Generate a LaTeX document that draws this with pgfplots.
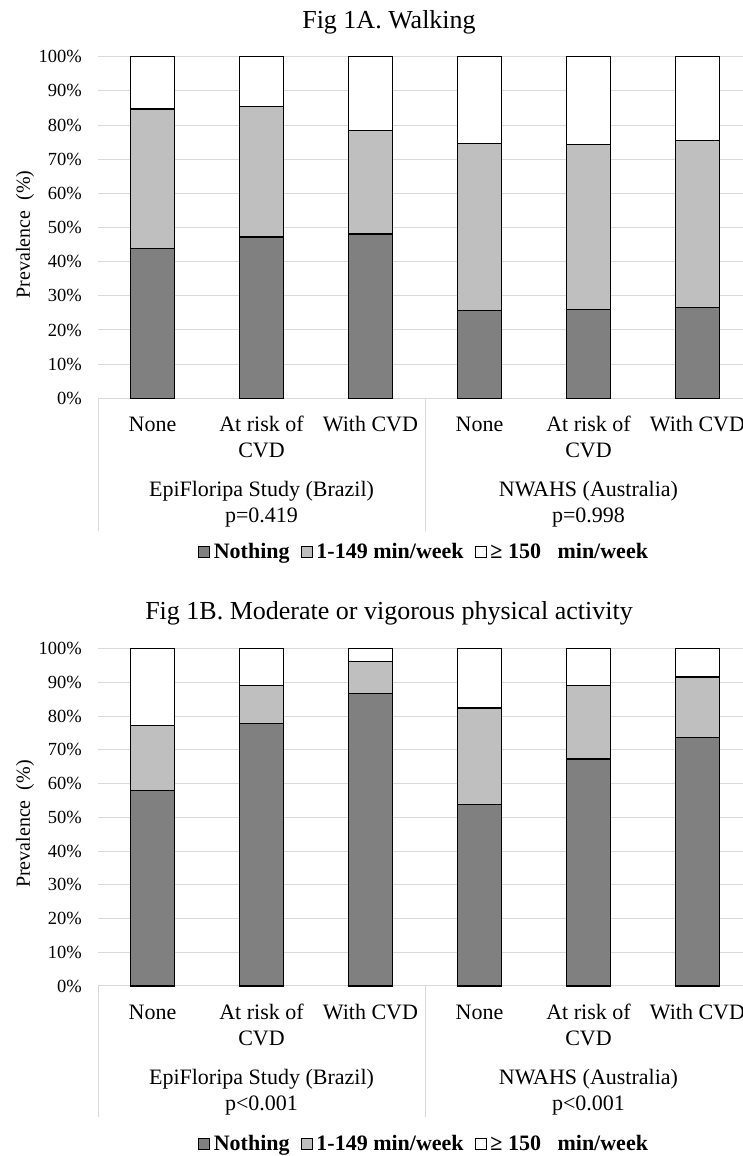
\documentclass[border=0pt]{standalone}
\usepackage{pgfplots}
\pgfplotsset{compat=1.18}
\usepackage{fontspec}
\setmainfont{Liberation Serif}
\definecolor{darkc}{HTML}{808080}
\definecolor{lightc}{HTML}{BFBFBF}
\definecolor{gridc}{HTML}{D9D9D9}
\pgfplotsset{
  panel/.style={
    scale only axis, width=654pt, xmin=-0.5, xmax=5.5, ymin=0, ymax=100,
    ybar stacked, bar width=43.5pt,
    axis line style={draw=none}, major tick length=0pt,
    ymajorgrids, major grid style={gridc, line width=1pt},
    ytick={0,10,...,100}, yticklabel={\pgfmathprintnumber{\tick}\%},
    /pgf/number format/assume math mode=true,
    yticklabel style={font=\fontsize{18.5}{22}\selectfont, anchor=east, inner sep=0pt, xshift=-16pt},
    xtick={0,...,5},
    xticklabels={\strut None, \strut At risk of\\CVD, \strut With CVD, \strut None, \strut At risk of\\CVD, \strut With CVD},
    xticklabel style={font=\fontsize{22}{25.6}\selectfont, align=center, anchor=north, inner sep=0pt, yshift=-15.5pt},
    ylabel={Prevalence\ \ (\%)},
    ylabel style={font=\fontsize{20}{24}\selectfont, at={(axis description cs:-0.1116,0.48)}, anchor=center},
    clip=false,
    legend columns=3,
    legend style={draw=none, fill=none, font=\bfseries\fontsize{22}{25}\selectfont,
      /tikz/every even column/.append style={column sep=9pt},
      /tikz/every odd column/.append style={column sep=2pt}},
    legend image code/.code={\draw[#1, line width=0.8pt] (0pt,-5.5pt) rectangle (11pt,5.5pt);},
    every axis plot/.append style={draw=black, line width=1.2pt},
  }
}
\newcommand{\grp}[3]{%
  \node[anchor=base, font=\fontsize{22}{26}\selectfont] at (axis cs:#1,0) [yshift=-98.4pt] {#2};
  \node[anchor=base, font=\fontsize{22}{26}\selectfont] at (axis cs:#1,0) [yshift=-124.4pt] {#3};}
\begin{document}
\begin{tikzpicture}
\node[anchor=base, font=\fontsize{26}{30}\selectfont] at (389pt,1127.7pt) {Fig 1A. Walking};
\begin{axis}[panel, height=341.6pt, at={(98pt,757.7pt)}, anchor=south west,
  legend style={at={(0.4985,-0.45)}, anchor=center}]
\addplot[fill=darkc] coordinates {(0,43.9) (1,47.2) (2,48.1) (3,25.7) (4,26.0) (5,26.5)};
\addplot[fill=lightc] coordinates {(0,40.8) (1,38.3) (2,30.3) (3,48.9) (4,48.2) (5,49.0)};
\addplot[fill=white] coordinates {(0,15.3) (1,14.5) (2,21.6) (3,25.4) (4,25.8) (5,24.5)};
\legend{Nothing, 1-149 min/week, {≥ 150\ \ \ min/week}}
\draw[gridc, line width=1pt] (axis cs:-0.5,0) -- ++(0pt,-133pt);
\draw[gridc, line width=1pt] (axis cs:2.5,0) -- ++(0pt,-133pt);
\grp{1}{EpiFloripa Study (Brazil)}{p=0.419}
\grp{4}{NWAHS (Australia)}{p=0.998}
\end{axis}
\node[anchor=base, font=\fontsize{26}{30}\selectfont] at (389pt,536pt) {Fig 1B. Moderate or vigorous physical activity};
\begin{axis}[panel, height=337.3pt, at={(98pt,170pt)}, anchor=south west,
  legend style={at={(0.4985,-0.4684)}, anchor=center}]
\addplot[fill=darkc] coordinates {(0,58.0) (1,77.8) (2,86.6) (3,53.9) (4,67.3) (5,73.6)};
\addplot[fill=lightc] coordinates {(0,19.3) (1,11.2) (2,9.6) (3,28.5) (4,21.8) (5,18.0)};
\addplot[fill=white] coordinates {(0,22.7) (1,11.0) (2,3.8) (3,17.6) (4,10.9) (5,8.4)};
\legend{Nothing, 1-149 min/week, {≥ 150\ \ \ min/week}}
\draw[gridc, line width=1pt] (axis cs:-0.5,0) -- ++(0pt,-131pt);
\draw[gridc, line width=1pt] (axis cs:2.5,0) -- ++(0pt,-131pt);
\grp{1}{EpiFloripa Study (Brazil)}{p<0.001}
\grp{4}{NWAHS (Australia)}{p<0.001}
\end{axis}
\pgfresetboundingbox
\useasboundingbox (0pt,0pt) rectangle (742pt,1156pt);
\end{tikzpicture}
\end{document}
